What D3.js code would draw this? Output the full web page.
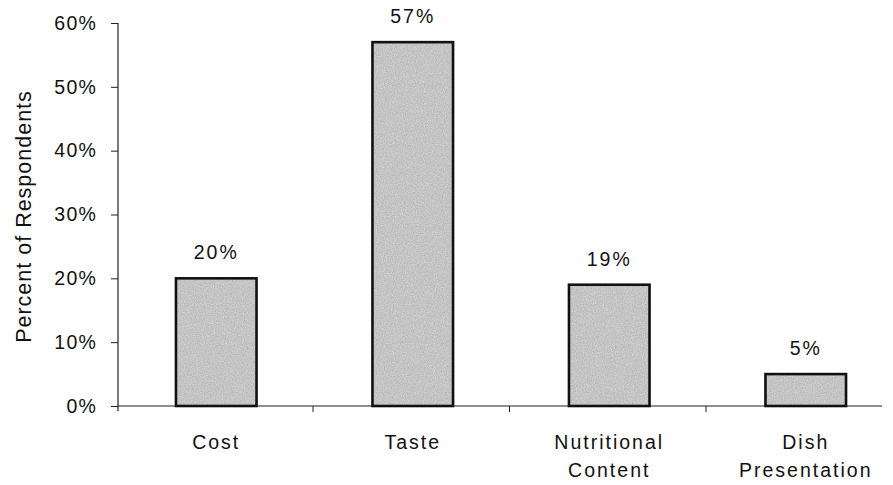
<!DOCTYPE html>
<html>
<head>
<meta charset="utf-8">
<script src="https://cdn.jsdelivr.net/npm/d3@7"></script>
<style>
  body { margin: 0; background: #fff; }
  svg text { font-family: "Liberation Sans", Arial, Helvetica, sans-serif; fill: #111; }
</style>
</head>
<body>
<svg id="chart" width="893" height="485"></svg>
<script>
// Survey: most important factor when choosing a dish
const categories = ["Cost", "Taste", "Nutritional|Content", "Dish|Presentation"];
const values = [0.20, 0.57, 0.19, 0.05];
const yTicks = [0, 0.1, 0.2, 0.3, 0.4, 0.5, 0.6];

const svg = d3.select("#chart");
const x0 = 118, y0 = 406, yTop = 23;

const x = d3.scaleBand()
  .domain(categories)
  .range([x0, x0 + 196.5 * 4])
  .paddingInner(0.59)
  .paddingOuter(0.295);

const y = d3.scaleLinear().domain([0, 0.6]).range([y0, yTop]);

// noise texture for the bar fill
const defs = svg.append("defs");
const filt = defs.append("filter").attr("id", "grain");
filt.append("feTurbulence").attr("type", "fractalNoise").attr("baseFrequency", 0.9).attr("numOctaves", 2).attr("seed", 4).attr("result", "n");
filt.append("feColorMatrix").attr("in", "n").attr("type", "matrix")
  .attr("values", "0 0 0 0 0.68  0 0 0 0 0.68  0 0 0 0 0.68  0 0 0 -1.2 1.15").attr("result", "g");
filt.append("feComposite").attr("in", "g").attr("in2", "SourceGraphic").attr("operator", "in");

// Y axis
const yAxis = d3.axisLeft(y).tickValues(yTicks).tickFormat(d3.format(".0%")).tickSize(7).tickPadding(14);
const gy = svg.append("g").attr("transform", `translate(${x0},0)`).call(yAxis);
gy.select(".domain").remove();
gy.append("line").attr("x1", 0).attr("x2", 0).attr("y1", yTop).attr("y2", y0 + 5).attr("stroke", "#222").attr("stroke-width", 1.2);
gy.selectAll(".tick line").attr("stroke", "#222").attr("stroke-width", 1);
gy.selectAll(".tick text").style("font-size", "19.5px").style("letter-spacing", "1.2px").attr("fill", "#111");

// X axis baseline and category separators
svg.append("line").attr("x1", x0).attr("x2", 882).attr("y1", y0).attr("y2", y0).attr("stroke", "#222").attr("stroke-width", 1.2);
const gap = (x.step() - x.bandwidth()) / 2;
const seps = categories.slice(1).map(c => x(c) - gap - 1.5);
svg.selectAll("line.sep").data(seps).join("line").attr("class", "sep")
  .attr("x1", d => d).attr("x2", d => d)
  .attr("y1", y0).attr("y2", y0 + 6).attr("stroke", "#222").attr("stroke-width", 1);

// Bars
const bars = svg.selectAll("g.bar").data(categories).join("g").attr("class", "bar");
const barRect = sel => sel
  .attr("x", d => x(d)).attr("width", x.bandwidth())
  .attr("y", (d, i) => y(values[i])).attr("height", (d, i) => y0 - y(values[i]));
bars.append("rect").call(barRect).attr("fill", "#b4b4b4");
bars.append("rect").call(barRect).attr("fill", "#b4b4b4").attr("filter", "url(#grain)").attr("opacity", 0.85);
bars.append("rect").call(barRect).attr("fill", "none").attr("stroke", "#111").attr("stroke-width", 2.6);

// Value labels
bars.append("text")
  .attr("x", d => x(d) + x.bandwidth() / 2)
  .attr("y", (d, i) => y(values[i]) - 19)
  .attr("text-anchor", "middle").style("font-size", "19.5px").style("letter-spacing", "2px")
  .text((d, i) => d3.format(".0%")(values[i]));

// Category labels (two lines where the name has a "|")
const cl = svg.selectAll("text.cat").data(categories).join("text").attr("class", "cat")
  .attr("y", 449).attr("text-anchor", "middle").style("font-size", "19.5px").style("letter-spacing", "2px");
cl.selectAll("tspan").data(d => d.split("|").map((s, k) => ({ s, k, p: d })))
  .join("tspan")
  .attr("x", t => x(t.p) + x.bandwidth() / 2)
  .attr("dy", t => t.k === 0 ? 0 : 28)
  .text(t => t.s);

// Y axis title
svg.append("text")
  .attr("transform", "translate(31,216.5) rotate(-90)")
  .attr("text-anchor", "middle").style("font-size", "21.5px").style("letter-spacing", "1px")
  .text("Percent of Respondents");
</script>
</body>
</html>
